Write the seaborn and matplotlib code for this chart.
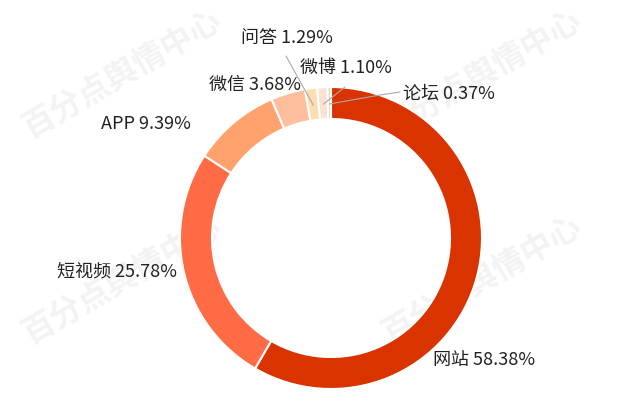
import matplotlib
matplotlib.use("Agg")
import numpy as np
import matplotlib.pyplot as plt
import seaborn as sns

sns.set_theme(style="white")
plt.rcParams['font.family'] = ['Noto Sans CJK SC', 'DejaVu Sans']

labels = ["网站", "短视频", "APP", "微信", "问答", "微博", "论坛"]
values = [58.38, 25.78, 9.39, 3.68, 1.29, 1.10, 0.37]
colors = ["#D93300", "#FF6B45", "#FFA26E", "#FFBE9C", "#FFDDB4", "#F9E2D4", "#F7CDB0"]
watermark = "百分点舆情中心"

H = 403
fig = plt.figure(figsize=(6.4, 4.03), dpi=100)
ax = fig.add_axes([0, 0, 1, 1])

for (x, y) in [(122, 74), (482, 74), (122, 280), (482, 280)]:
    ax.text(x, H - y, watermark, fontsize=23, color="#F3F3F3", rotation=30,
            ha="center", va="center", weight="bold", zorder=0)

cx, cy, r = 331, 238, 151
wedges, _ = ax.pie(values, colors=colors, startangle=90, counterclock=False,
                   center=(cx, H - cy), radius=r, frame=True,
                   wedgeprops=dict(width=32, edgecolor="white", linewidth=1.5))
ax.set_xlim(0, 640)
ax.set_ylim(0, H)
ax.set_aspect("equal")
ax.axis("off")

text_pos = [(433, 360), (57, 271), (101, 124), (209, 85), (241, 38), (300, 68), (403, 93)]
for l, v, (x, y) in zip(labels, values, text_pos):
    ax.text(x, H - y, f"{l} {v:.2f}%", fontsize=13, color="#222222", ha="left", va="center", zorder=5)

# leader lines: start at each small slice, end near its label
leader_ends = {"问答": [(286, 56)], "微博": [(345, 87)], "论坛": [(380, 95), (400, 92)]}
for w, l in zip(wedges, labels):
    if l in leader_ends:
        a = np.deg2rad((w.theta1 + w.theta2) / 2)
        px = cx + (r - 17) * np.cos(a)
        py = cy - (r - 17) * np.sin(a)
        pts = [(px, py)] + leader_ends[l]
        ax.plot([p[0] for p in pts], [H - p[1] for p in pts], color="#AAAAAA", lw=0.8, zorder=4)

fig.savefig("out.png", dpi=100)
